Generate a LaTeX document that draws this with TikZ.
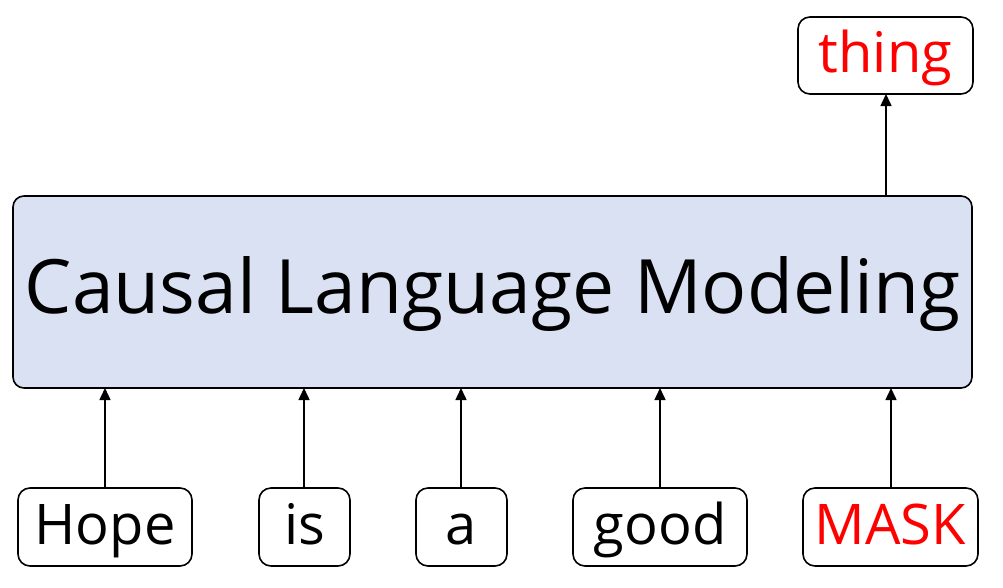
\documentclass[tikz,border=0pt]{standalone}
\usepackage{fontspec}
\setmainfont{Open Sans}
\usetikzlibrary{arrows.meta}
\definecolor{boxfill}{HTML}{DAE1F3}
\definecolor{maskred}{HTML}{FF0000}
\tikzset{
  wordbox/.style={draw=black, line width=1.6pt, rounded corners=12pt, fill=white},
  mainbox/.style={draw=black, line width=1.6pt, rounded corners=11pt, fill=boxfill},
  arr/.style={line width=1.5pt, -{Triangle[width=11pt,length=12pt]}},
  wordtext/.style={font=\fontsize{56}{64}\selectfont, anchor=base, inner sep=0pt},
}
\begin{document}
\begin{tikzpicture}[x=1pt,y=-1pt]
\useasboundingbox (0,0) rectangle (1003,587);
% main box
\draw[mainbox] (13,196) rectangle (972,388);
\node[font=\fontsize{75}{80}\selectfont, anchor=base, inner sep=0pt] (main) at (492.5,313) {Causal Language Modeling};
% word boxes
\draw[wordbox] (18,488) rectangle (192,566);
\draw[wordbox] (259,488) rectangle (350,566);
\draw[wordbox] (416,488) rectangle (507,566);
\draw[wordbox] (573,488) rectangle (747,566);
\draw[wordbox] (803,488) rectangle (978,566);
\draw[wordbox] (798,17) rectangle (973,94);
\node[wordtext] (hope) at (105,544) {Hope};
\node[wordtext] (is) at (304.5,544) {is};
\node[wordtext] (a) at (461.5,544) {a};
\node[wordtext] (good) at (660,544) {good};
\node[wordtext, text=maskred] (mask) at (890.5,544) {MASK};
\node[wordtext, text=maskred] (thing) at (885.5,72) {thing};
% coordinates
\coordinate (hb) at (105,488); \coordinate (ht) at (105,388);
\coordinate (ib) at (304,488); \coordinate (it) at (304,388);
\coordinate (ab) at (461,488); \coordinate (at) at (461,388);
\coordinate (gb) at (660,488); \coordinate (gt) at (660,388);
\coordinate (mb) at (891,488); \coordinate (mt) at (891,388);
\coordinate (tb) at (886,196); \coordinate (tt) at (886,94);
\draw[arr] (hb) -- (ht);
\draw[arr] (ib) -- (it);
\draw[arr] (ab) -- (at);
\draw[arr] (gb) -- (gt);
\draw[arr] (mb) -- (mt);
\draw[arr] (tb) -- (tt);
\end{tikzpicture}
\end{document}
